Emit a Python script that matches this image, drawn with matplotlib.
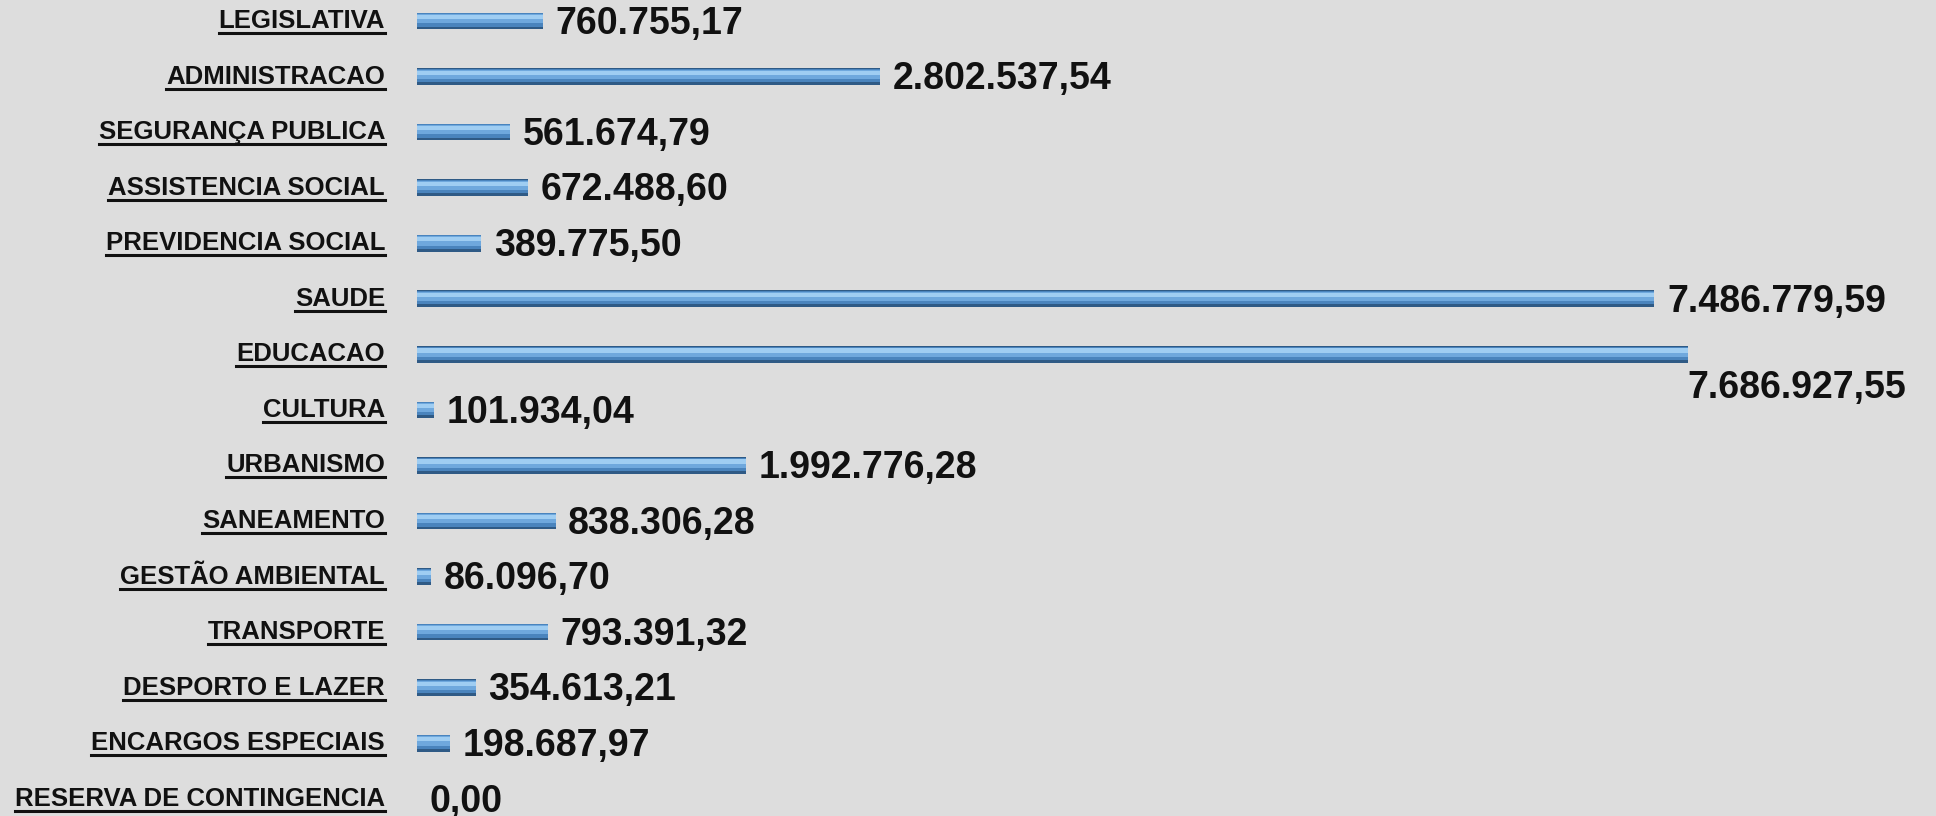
import matplotlib
matplotlib.use("Agg")
import matplotlib.pyplot as plt
from matplotlib.lines import Line2D
import numpy as np

# data
categories = ['LEGISLATIVA', 'ADMINISTRACAO', 'SEGURANÇA PUBLICA', 'ASSISTENCIA SOCIAL',
              'PREVIDENCIA SOCIAL', 'SAUDE', 'EDUCACAO', 'CULTURA', 'URBANISMO',
              'SANEAMENTO', 'GESTÃO AMBIENTAL', 'TRANSPORTE', 'DESPORTO E LAZER',
              'ENCARGOS ESPECIAIS', 'RESERVA DE CONTINGENCIA']
values = [760755.17, 2802537.54, 561674.79, 672488.60, 389775.50, 7486779.59,
          7686927.55, 101934.04, 1992776.28, 838306.28, 86096.70, 793391.32,
          354613.21, 198687.97, 0.00]


def br_fmt(v):
    s = f"{v:,.2f}"
    return s.replace(",", "X").replace(".", ",").replace("X", ".")


bg = '#dddddd'
fig = plt.figure(figsize=(19.36, 8.16), dpi=100, facecolor=bg)
ax = fig.add_axes([417 / 1936, 0, 1519 / 1936, 1])
ax.set_facecolor(bg)

y = np.arange(len(categories))
h = 0.30

# bevelled bar look: dark base, then lighter layers towards the top edge
ax.barh(y, values, height=h, color='#2f5a85', edgecolor='none')
ax.barh(y - 0.02, values, height=h * 0.8, color='#4a84bd', edgecolor='none')
ax.barh(y - 0.04, values, height=h * 0.55, color='#6fa8dd', edgecolor='none')
ax.barh(y - 0.07, values, height=h * 0.25, color='#9fcdf2', edgecolor='none')

ax.set_xlim(0, 9.19e6)
ax.set_ylim(14.31, -0.378)
ax.axis('off')

font = 'Liberation Sans'

# value labels
for i, v in enumerate(values):
    if categories[i] == 'EDUCACAO':
        ax.annotate(br_fmt(v), xy=(v, i), xytext=(0, -24), textcoords='offset points',
                    ha='left', va='center', fontsize=27, fontweight='bold',
                    family=font, color='#111111')
    else:
        ax.annotate(br_fmt(v), xy=(v, i), xytext=(9, -2), textcoords='offset points',
                    ha='left', va='center', fontsize=27, fontweight='bold',
                    family=font, color='#111111')

# category labels, right aligned left of the bars
cat_texts = []
for i, c in enumerate(categories):
    t = ax.annotate(c, xy=(0, i), xytext=(-23, 0), textcoords='offset points',
                    ha='right', va='center', fontsize=18.5, fontweight='bold',
                    family=font, color='#111111')
    cat_texts.append(t)

# underline the category labels
fig.canvas.draw()
r = fig.canvas.get_renderer()
for t in cat_texts:
    bb = t.get_window_extent(renderer=r)
    yl = bb.y0
    fig.add_artist(Line2D([bb.x0, bb.x1], [yl, yl], transform=None,
                          color='#111111', linewidth=2.2))

fig.savefig('out.png', dpi=100, facecolor=bg)
